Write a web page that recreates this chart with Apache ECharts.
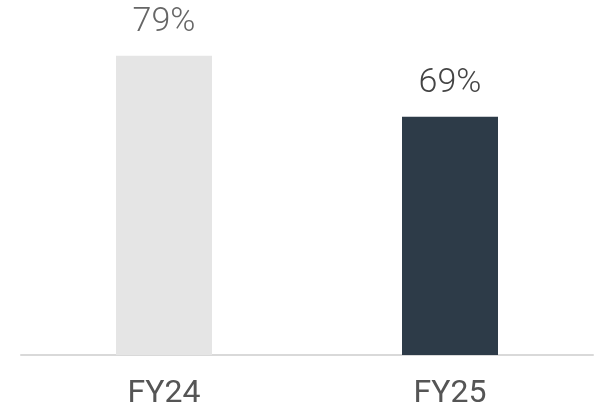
<!DOCTYPE html>
<html>
<head>
<meta charset="utf-8">
<script src="https://cdn.jsdelivr.net/npm/echarts@6/dist/echarts.min.js"></script>
<style>html,body{margin:0;padding:0;background:#fff;}#c{width:600px;height:410px;}</style>
</head>
<body>
<div id="c"></div>
<script>
const categories = ["FY24", "FY25"];
const values = [79, 69];
const barColors = ["#e5e5e5", "#2d3b48"];
const labelColors = ["#666666", "#444444"];

const chart = echarts.init(document.getElementById('c'), null, {renderer: 'canvas'});
chart.setOption({
  animation: false,
  grid: {left: 21, right: 7, top: 19, bottom: 53},
  xAxis: {
    type: 'category',
    data: categories,
    axisLine: {show: true, lineStyle: {color: '#d9d9d9', width: 2}},
    axisTick: {show: false},
    axisLabel: {color: '#555555', fontSize: 32, fontFamily: 'Roboto', margin: 23}
  },
  yAxis: {
    type: 'value', min: 30, max: 85,
    show: false,
    splitLine: {show: false}
  },
  series: [{
    type: 'bar',
    barWidth: 96,
    data: values.map((v, i) => ({
      value: v,
      itemStyle: {color: barColors[i]},
      label: {color: labelColors[i]}
    })),
    label: {
      show: true, position: 'top', distance: 16,
      fontSize: 34, fontFamily: 'Roboto', fontWeight: 300,
      formatter: p => p.value + '%'
    }
  }]
});
</script>
</body>
</html>
